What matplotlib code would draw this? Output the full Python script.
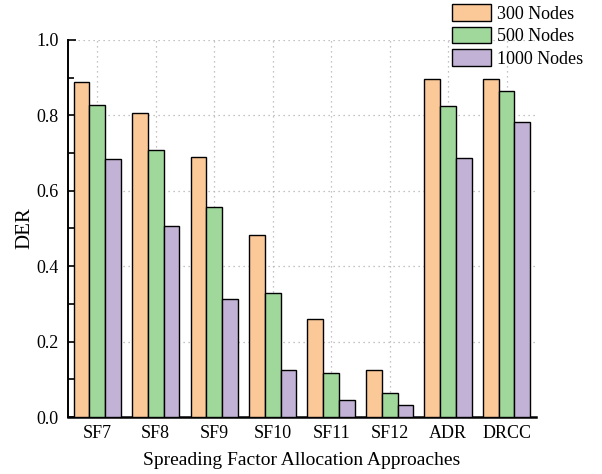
import numpy as np
import matplotlib.pyplot as plt
from matplotlib.ticker import MultipleLocator

plt.rcParams['font.family'] = ['Liberation Serif', 'DejaVu Serif']

categories = ['SF7', 'SF8', 'SF9', 'SF10', 'SF11', 'SF12', 'ADR', 'DRCC']
der_300 = [0.889, 0.805, 0.690, 0.483, 0.260, 0.125, 0.897, 0.896]
der_500 = [0.827, 0.707, 0.556, 0.328, 0.118, 0.065, 0.825, 0.865]
der_1000 = [0.683, 0.507, 0.313, 0.125, 0.046, 0.032, 0.686, 0.782]
series_names = ['300 Nodes', '500 Nodes', '1000 Nodes']
colors = ['#FBC897', '#A0D89C', '#C2B2D6']

fig = plt.figure(figsize=(6.02, 4.74), dpi=100)
ax = fig.add_axes([0.113, 0.120, 0.777, 0.796])

x = np.arange(len(categories))
w = 0.27
for i, vals in enumerate([der_300, der_500, der_1000]):
    ax.bar(x + (i - 1) * w, vals, w, color=colors[i], edgecolor='black',
           linewidth=1.0, label=series_names[i], zorder=3)

ax.set_xlim(-0.5, 7.5)
ax.set_ylim(0, 1.0)
ax.set_xticks(x)
ax.set_xticklabels(categories)
ax.yaxis.set_major_locator(MultipleLocator(0.2))
ax.yaxis.set_minor_locator(MultipleLocator(0.1))
ax.yaxis.set_major_formatter(plt.FormatStrFormatter('%.1f'))

ax.tick_params(axis='both', direction='in', labelsize=13, width=1.2)
ax.tick_params(axis='y', which='major', length=6, pad=7)
ax.tick_params(axis='y', which='minor', direction='in', length=4, width=1.2)
ax.tick_params(axis='x', length=5, pad=6)

ax.grid(True, which='major', linestyle=(0, (1, 3)), color='#b0b0b0', linewidth=0.9, zorder=0)
ax.set_axisbelow(True)
ax.yaxis.get_gridlines()[-1].set_visible(False)

for s in ['top', 'right']:
    ax.spines[s].set_visible(False)
ax.spines['left'].set_linewidth(1.4)
ax.spines['bottom'].set_linewidth(1.8)

ax.set_ylabel('DER', fontsize=15)
ax.yaxis.set_label_coords(-0.073, 0.5)
ax.set_xlabel('Spreading Factor Allocation Approaches', fontsize=14, labelpad=7)

fig.legend(loc='upper right', bbox_to_anchor=(0.99, 1.018), frameon=False,
           fontsize=13, handlelength=2.15, handleheight=1.05, labelspacing=0.22,
           handletextpad=0.33, borderpad=0.2)

fig.savefig('out.png', dpi=100)
